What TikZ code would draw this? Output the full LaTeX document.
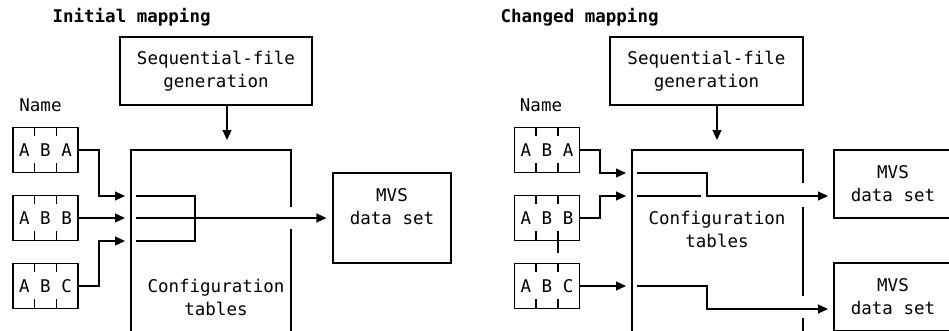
\documentclass[tikz,border=0pt]{standalone}
\usepackage{fontspec}
\setmonofont{DejaVu Sans Mono}
\usetikzlibrary{arrows.meta,calc,positioning}

\begin{document}
\begin{tikzpicture}[x=1pt, y=-1pt, line width=1.1pt, >={Triangle[length=10pt,width=9pt]},
		box/.style={draw, rectangle, inner sep=0pt},
		txt/.style={font=\ttfamily\fontsize{17.5}{23}\selectfont, align=center, inner sep=0pt},
		ttl/.style={font=\ttfamily\bfseries\fontsize{17.5}{23}\selectfont, anchor=base west, inner sep=0pt},
		namebox/.style={box, txt, minimum width=65pt, minimum height=45pt},
		gap/.style={shorten >=6pt}]
	\clip (0,0) rectangle (949,330);
	% name boxes, both panels
	\foreach \p/\x in {L/45.5,R/547}
	\foreach \n/\y/\t in {1/150/A B A,2/218/A B B,3/286/A B C} {
		\node[namebox] (n\p\n) at (\x,\y) {\t};
		\foreach \f in {1,2} {
			\draw ($(n\p\n.north west)!\f/3!(n\p\n.north east)$) -- ++(0,9);
			\draw ($(n\p\n.south west)!\f/3!(n\p\n.south east)$) -- ++(0,-10);
		}
	}
	% initial mapping
	\node[ttl] (ttlL) at (52,22) {Initial mapping};
	\node[box, txt, minimum width=192pt, minimum height=68pt] (seqL) at (216,71) {Sequential-file\\generation};
	\coordinate (topL) at (227,140);
	\draw[->] (seqL.south -| topL) -- (topL);
	\draw (131,345) |- (291,150) -- (291,207);
	\draw (291,229) -- (291,345);
	\node[txt] (cfgL) at (216,297) {Configuration\\tables};
	\node[txt] (nameL) at (40.5,105) {Name};
	\coordinate (jL) at (99,218);
	\coordinate (inL1) at (131,196);
	\coordinate (inL2) at (131,218);
	\coordinate (inL3) at (131,241);
	\draw[->,gap] (nL1.east) -- (nL1.east -| jL) |- (inL1);
	\draw[->,gap] (nL2.east) -- (inL2);
	\draw[->,gap] (nL3.east) -- (nL3.east -| jL) |- (inL3);
	\draw (136,196) -| (195,241) -- (136,241);
	\node[box, minimum width=118pt, minimum height=90pt] (mvsL) at (392,218) {};
	\node[txt] (mvsLt) at (392,207) {MVS\\data set};
	\draw[->,gap] (136,218) -- (mvsL.west);
	% changed mapping
	\node[ttl] (ttlR) at (500,22) {Changed mapping};
	\node[box, txt, minimum width=193pt, minimum height=68pt] (seqR) at (706.5,71) {Sequential-file\\generation};
	\coordinate (topR) at (717,140);
	\draw[->] (seqR.south -| topR) -- (topR);
	\draw (632,345) |- (803,150) -- (803,183);
	\draw (803,207) -- (803,296);
	\draw (803,318) -- (803,345);
	\node[txt] (cfgR) at (717,229.5) {Configuration\\tables};
	\node[txt] (nameR) at (541,105) {Name};
	\draw (558,241) -- (558,253);
	\coordinate (jR) at (600,218);
	\coordinate (inR1) at (632,173);
	\coordinate (inR2) at (632,196);
	\coordinate (inR3) at (632,286);
	\draw[->,gap] (nR1.east) -- (nR1.east -| jR) |- (inR1);
	\draw[->,gap] (nR2.east) -- (nR2.east -| jR) |- (inR2);
	\draw[->,gap] (nR3.east) -- (inR3);
	\node[box, txt, minimum width=118pt, minimum height=68pt] (mvsR1) at (893,184) {MVS\\data set};
	\node[box, txt, minimum width=118pt, minimum height=68pt] (mvsR2) at (893,297) {MVS\\data set};
	\coordinate (outR1) at (834,196);
	\coordinate (outR2) at (834,309);
	\draw[->,gap] (637,173) -| (707,196) -- (outR1);
	\draw (637,196) -- (701,196);
	\draw[->,gap] (637,286) -| (707,309) -- (outR2);
\end{tikzpicture}
\end{document}
